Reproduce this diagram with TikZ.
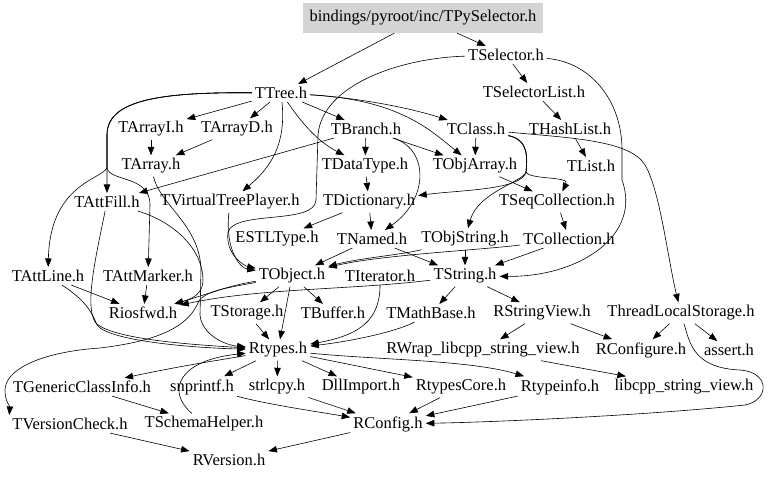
\documentclass[tikz,border=0pt]{standalone}
\usepackage{fontspec}
\setmainfont{Liberation Serif}
\usetikzlibrary{arrows.meta}
\tikzset{
  n/.style={inner sep=3pt, font=\fontsize{16.5}{18}\selectfont},
  topbox/.style={n, fill=black!17, minimum width=240pt, minimum height=30pt},
  e/.style={draw, line width=0.6pt, -{Triangle[length=8.5pt,width=6.5pt]}}
}
\begin{document}
\begin{tikzpicture}[x=1pt,y=-1pt]
\useasboundingbox (0,0) rectangle (768,480);
\node[topbox] (top) at (423,18) {bindings/pyroot/inc/TPySelector.h};
\node[n] (sel) at (506,55) {TSelector.h};
\node[n] (tree) at (281,93) {TTree.h};
\node[n] (sellist) at (534,92) {TSelectorList.h};
\node[n] (arrI) at (151,129) {TArrayI.h};
\node[n] (arrD) at (237,129) {TArrayD.h};
\node[n] (branch) at (366,129) {TBranch.h};
\node[n] (tclass) at (476,129) {TClass.h};
\node[n] (hlist) at (570,129) {THashList.h};
\node[n] (arr) at (151,166) {TArray.h};
\node[n] (dtype) at (365,166) {TDataType.h};
\node[n] (objarr) at (475,166) {TObjArray.h};
\node[n] (tlist) at (591,166) {TList.h};
\node[n] (fill) at (107,202) {TAttFill.h};
\node[n] (vtp) at (230,202) {TVirtualTreePlayer.h};
\node[n] (dict) at (369,202) {TDictionary.h};
\node[n] (seqc) at (557,202) {TSeqCollection.h};
\node[n] (estl) at (277,239) {ESTLType.h};
\node[n] (named) at (372,239) {TNamed.h};
\node[n] (objstr) at (465,239) {TObjString.h};
\node[n] (coll) at (569,239) {TCollection.h};
\node[n] (line) at (48,276) {TAttLine.h};
\node[n] (marker) at (148,276) {TAttMarker.h};
\node[n] (tobj) at (292,276) {TObject.h};
\node[n] (iter) at (380,276) {TIterator.h};
\node[n] (tstr) at (465,276) {TString.h};
\node[n] (ios) at (143,313) {Riosfwd.h};
\node[n] (stor) at (247,313) {TStorage.h};
\node[n] (buf) at (333,313) {TBuffer.h};
\node[n] (math) at (431,313) {TMathBase.h};
\node[n] (sview) at (542,313) {RStringView.h};
\node[n] (tls) at (681,313) {ThreadLocalStorage.h};
\node[n] (rtypes) at (278,350) {Rtypes.h};
\node[n] (wrap) at (483,350) {RWrap\_libcpp\_string\_view.h};
\node[n] (rconfigure) at (641,350) {RConfigure.h};
\node[n] (assrt) at (729,350) {assert.h};
\node[n] (gci) at (82,387) {TGenericClassInfo.h};
\node[n] (snp) at (202,387) {snprintf.h};
\node[n] (strl) at (277,387) {strlcpy.h};
\node[n] (dll) at (361,387) {DllImport.h};
\node[n] (rcore) at (461,387) {RtypesCore.h};
\node[n] (rtinfo) at (560,387) {Rtypeinfo.h};
\node[n] (libsv) at (684,387) {libcpp\_string\_view.h};
\node[n] (tvc) at (70,424) {TVersionCheck.h};
\node[n] (schema) at (204,424) {TSchemaHelper.h};
\node[n] (rconfig) at (388,424) {RConfig.h};
\node[n] (rver) at (229,460) {RVersion.h};

% top level
\draw[e] (top) -- (tree);
\draw[e] (top) -- (sel);
\draw[e] (sel) -- (sellist);
\draw[e] (sellist) -- (hlist);
\draw[e] (hlist) -- (tlist);
\draw[e] (sel) .. controls (400,58) and (322,85) .. (318,135) -- (316,200) .. controls (315,225) and (235,210) .. (228,232) .. controls (225,255) and (245,266) .. (tobj);
\draw[e] (sel) .. controls (590,62) and (622,100) .. (622,150) -- (622,180) .. controls (642,235) and (580,277) .. (tstr);
% TTree
\draw[e] (tree) -- (arrI);
\draw[e] (tree) -- (arrD);
\draw[e] (tree) -- (branch);
\draw[e] (tree) .. controls (300,120) and (315,140) .. (dtype);
\draw[e] (tree) .. controls (287,150) and (265,172) .. (vtp);
\draw[e] (tree) .. controls (360,98) and (410,108) .. (tclass);
\draw[e] (tree) .. controls (400,100) and (430,130) .. (objarr);
\draw[e] (tree) .. controls (160,92) and (107,100) .. (107,135) -- (fill);
\draw[e] (tree) .. controls (160,92) and (107,100) .. (107,135) -- (107,168) .. controls (100,180) and (50,185) .. (line);
\draw[e] (tree) .. controls (160,92) and (107,100) .. (107,135) -- (107,168) .. controls (110,182) and (150,175) .. (150,205) -- (marker);
% arrays, branch
\draw[e] (arrI) -- (arr);
\draw[e] (arrD) -- (arr);
\draw[e] (branch) -- (dtype);
\draw[e] (dtype) -- (dict);
\draw[e] (branch) -- (fill);
\draw[e] (branch) -- (objarr);
\draw[e] (branch) .. controls (430,150) and (428,200) .. (named);
% TClass
\draw[e] (tclass) -- (objarr);
\draw[e] (tclass) .. controls (530,140) and (527,160) .. (526,172) .. controls (522,190) and (460,190) .. (dict);
\draw[e] (tclass) .. controls (530,140) and (527,160) .. (526,172) .. controls (523,182) and (478,192) .. (objstr);
\draw[e] (tclass) .. controls (530,140) and (527,160) .. (526,172) .. controls (530,180) and (570,176) .. (seqc);
\draw[e] (tclass) .. controls (570,138) and (630,140) .. (645,165) .. controls (660,190) and (668,260) .. (tls);
% collections
\draw[e] (objarr) -- (seqc);
\draw[e] (seqc) -- (coll);
\draw[e] (dict) -- (estl);
\draw[e] (dict) -- (named);
\draw[e] (coll) -- (tstr);
\draw[e] (coll) .. controls (480,250) and (380,255) .. (tobj);
\draw[e] (objstr) -- (tstr);
\draw[e] (objstr) .. controls (400,255) and (360,258) .. (tobj);
\draw[e] (named) -- (tobj);
\draw[e] (named) -- (tstr);
\draw[e] (vtp) .. controls (225,250) and (240,268) .. (tobj);
% Riosfwd and Rtypes
\draw[e] (tobj) .. controls (230,285) and (205,295) .. (ios);
\draw[e] (tstr) .. controls (350,290) and (260,288) .. (ios);
\draw[e] (fill) .. controls (175,222) and (203,250) .. (203,280) .. controls (203,292) and (195,298) .. (ios);
\draw[e] (fill) .. controls (95,260) and (85,305) .. (95,322) .. controls (110,340) and (200,345) .. (rtypes);
\draw[e] (line) -- (ios);
\draw[e] (line) .. controls (85,300) and (92,312) .. (97,325) .. controls (110,342) and (200,348) .. (rtypes);
\draw[e] (marker) -- (ios);
\draw[e] (arr) .. controls (160,205) and (200,225) .. (201,270) -- (200,315) .. controls (202,335) and (225,345) .. (rtypes);
\draw[e] (tobj) .. controls (225,288) and (200,292) .. (197,305) .. controls (185,330) and (150,342) .. (100,348) .. controls (40,352) and (5,370) .. (5,390) .. controls (5,402) and (10,406) .. (tvc.north west);
\draw[e] (tobj) -- (stor);
\draw[e] (tobj) -- (buf);
\draw[e] (tobj) -- (rtypes);
\draw[e] (stor) -- (rtypes);
\draw[e] (iter) .. controls (380,320) and (360,335) .. (rtypes);
\draw[e] (math) .. controls (400,330) and (360,340) .. (rtypes);
\draw[e] (tstr) -- (math);
\draw[e] (tstr) -- (sview);
\draw[e] (sview) -- (wrap);
\draw[e] (sview) -- (rconfigure);
\draw[e] (tls) -- (rconfigure);
\draw[e] (tls) -- (assrt);
\draw[e] (tls) .. controls (690,345) and (695,368) .. (740,370) .. controls (770,372) and (770,400) .. (745,405) .. controls (650,415) and (500,422) .. (rconfig);
\draw[e] (wrap) -- (libsv);
% bottom
\draw[e] (rtypes) -- (rcore);
\draw[e] (rtypes) .. controls (380,360) and (470,360) .. (rtinfo);
\draw[e] (rtypes) -- (dll);
\draw[e] (rtypes) -- (strl);
\draw[e] (rtypes) -- (snp);
\draw[e] (rtypes) .. controls (220,360) and (180,366) .. (gci);
\draw[e] (schema) .. controls (165,390) and (180,360) .. (rtypes);
\draw[e] (gci) -- (schema);
\draw[e] (tvc) -- (rver);
\draw[e] (rconfig) -- (rver);
\draw[e] (snp) .. controls (270,405) and (320,412) .. (rconfig);
\draw[e] (strl) -- (rconfig);
\draw[e] (rcore) -- (rconfig);
\draw[e] (rtinfo) -- (rconfig);
\end{tikzpicture}
\end{document}
